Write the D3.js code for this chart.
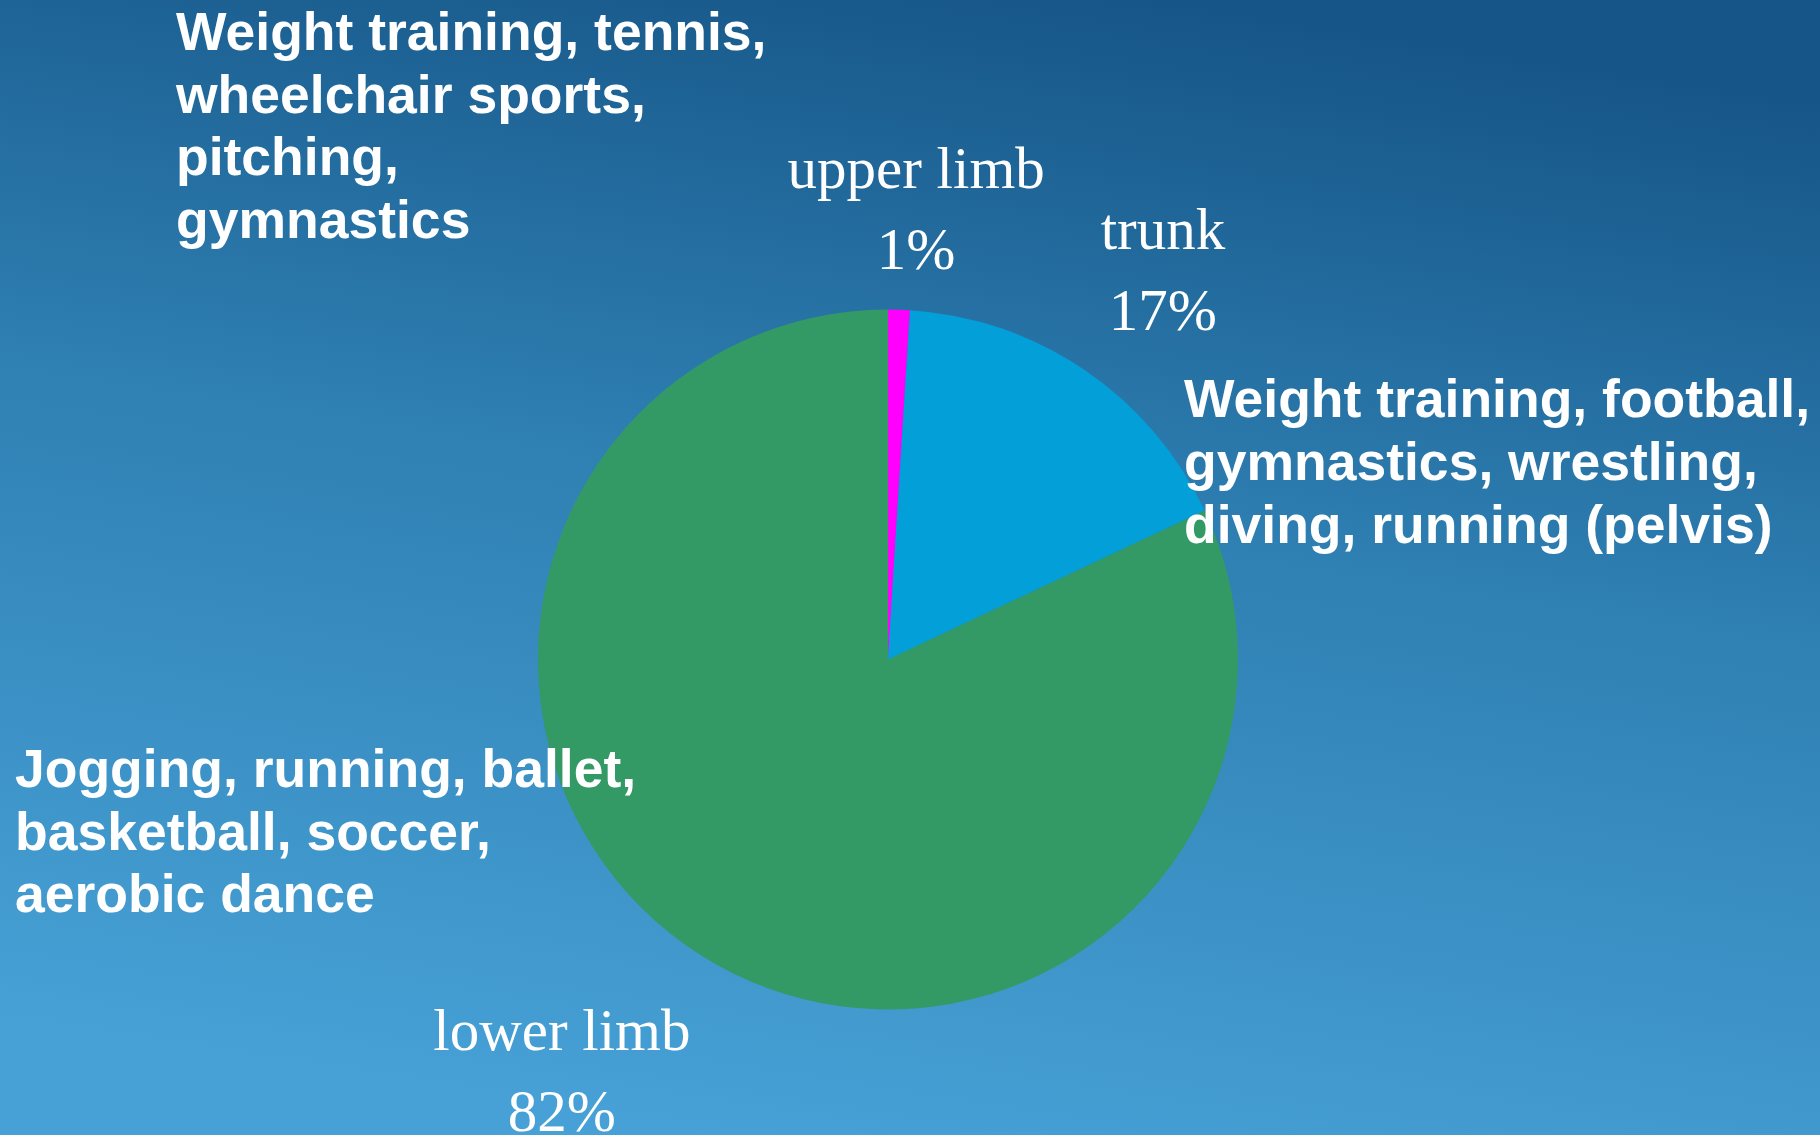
<!DOCTYPE html>
<html>
<head>
<meta charset="utf-8">
<script src="https://cdn.jsdelivr.net/npm/d3@7"></script>
<style>
  html, body { margin: 0; padding: 0; overflow: hidden; }
  svg { display: block; }
</style>
</head>
<body>
<script>
// Share of sports-related stress fractures by body region
const regions = ["upper limb", "trunk", "lower limb"];
const shares = [1, 17, 82];
const shareLabels = ["1%", "17%", "82%"];

// Sports associated with each region (drawn as free text blocks)
const upperLimbSports = ["Weight training, tennis,", "wheelchair sports,", "pitching,", "gymnastics"];
const trunkSports = ["Weight training, football,", "gymnastics, wrestling,", "diving, running (pelvis)"];
const lowerLimbSports = ["Jogging, running, ballet,", "basketball, soccer,", "aerobic dance"];

// ---- layout and styling ----
const W = 1820, H = 1135;
const cx = 888, cy = 659.5, radius = 350;
const sliceColors = ["#ff00ff", "#039fd9", "#349a65"];
const labelRadius = 450;
const labelNudge = [[14, 18], [22, 2], [-85, 51]];   // per-slice label offsets
const labelLineGap = 81;

const svg = d3.select("body").append("svg")
  .attr("width", W).attr("height", H);

// background gradient
const defs = svg.append("defs");
const grad = defs.append("linearGradient")
  .attr("id", "bg")
  .attr("x1", "65%").attr("y1", "0%")
  .attr("x2", "40%").attr("y2", "100%");
grad.append("stop").attr("offset", "0%").attr("stop-color", "#165587");
grad.append("stop").attr("offset", "45%").attr("stop-color", "#2f80b3");
grad.append("stop").attr("offset", "100%").attr("stop-color", "#47a1d6");
svg.append("rect").attr("width", W).attr("height", H).attr("fill", "url(#bg)");

// pie
const color = d3.scaleOrdinal().domain(regions).range(sliceColors);
const pie = d3.pie().sort(null).value(d => d.value);
const arcs = pie(regions.map((r, i) => ({ region: r, value: shares[i], label: shareLabels[i] })));
const arc = d3.arc().innerRadius(0).outerRadius(radius);
const labelArc = d3.arc().innerRadius(labelRadius).outerRadius(labelRadius);

const g = svg.append("g").attr("transform", `translate(${cx},${cy})`);
g.selectAll("path.slice")
  .data(arcs)
  .join("path")
  .attr("class", "slice")
  .attr("d", arc)
  .attr("fill", d => color(d.data.region));

// region + percentage labels
const lbl = g.selectAll("text.region")
  .data(arcs)
  .join("text")
  .attr("class", "region")
  .attr("text-anchor", "middle")
  .attr("fill", "#ffffff")
  .style("font-family", "'Liberation Serif', 'Times New Roman', serif")
  .style("font-size", "59px")
  .attr("transform", (d, i) => {
    const [x, y] = labelArc.centroid(d);
    return `translate(${x + labelNudge[i][0]},${y + labelNudge[i][1]})`;
  });
lbl.append("tspan").attr("x", 0).attr("y", -labelLineGap / 2 + 0.5).text(d => d.data.region);
lbl.append("tspan").attr("x", 0).attr("y", labelLineGap / 2 + 0.5).text(d => d.data.label);

// sports annotation blocks
function textBlock(lines, x, y0, gap) {
  const t = svg.append("text")
    .attr("fill", "#ffffff")
    .style("font-family", "'Liberation Sans', Arial, sans-serif")
    .style("font-weight", "bold")
    .style("font-size", "53.5px");
  lines.forEach((s, i) => {
    t.append("tspan").attr("x", x).attr("y", y0 + i * gap).text(s);
  });
}
textBlock(upperLimbSports, 176, 50, 62.5);
textBlock(trunkSports, 1184, 417, 63);
textBlock(lowerLimbSports, 15, 787, 62.5);
</script>
</body>
</html>
